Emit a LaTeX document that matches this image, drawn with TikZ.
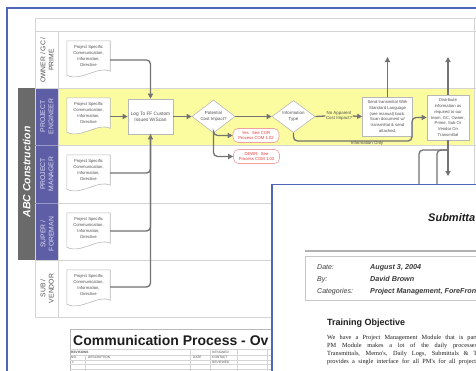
\documentclass[tikz,border=0pt]{standalone}
\usepackage{fontspec}
\setmainfont{Liberation Sans}
\newfontfamily\docserif{Liberation Serif}
\usetikzlibrary{arrows.meta,shapes.geometric}
\pgfdeclarelayer{back}
\pgfdeclarelayer{mid}
\pgfsetlayers{back,mid,main}

\definecolor{frameblue}{HTML}{4F66B8}
\definecolor{lanepurple}{HTML}{5E5EA6}
\definecolor{lanelav}{HTML}{DCDCF2}
\definecolor{laneyellow}{HTML}{FBFB9F}
\definecolor{abcgray}{HTML}{6A6A6A}
\definecolor{gridgray}{HTML}{D4D4D4}
\definecolor{flowgray}{HTML}{737373}
\definecolor{boxgray}{HTML}{B8B8B8}
\definecolor{txtgray}{HTML}{505050}
\definecolor{redtxt}{HTML}{E23B3B}
\definecolor{redline}{HTML}{F0A0A0}
\definecolor{headtxt}{HTML}{1E1E1E}
\definecolor{metatxt}{HTML}{3A3A3A}

\newcommand{\fsz}[2]{\fontsize{#1}{#2}\selectfont}

\begin{document}
\begin{tikzpicture}[x=1pt,y=-1pt,
  gridline/.style={draw=gridgray, line width=0.8},
  lanelbl/.style={rotate=90, align=center, font=\fsz{6.8}{8.2}, inner sep=0},
  docbox/.style={minimum width=43, minimum height=30, inner sep=0, align=center, font=\fsz{4.2}{6.2}, text=txtgray},
  docedge/.style={draw=boxgray, fill=white, line width=0.6},
  procbox/.style={draw=boxgray, fill=white, line width=0.6, align=center, inner sep=0, text=txtgray},
  decision/.style={diamond, draw=boxgray, fill=white, line width=0.6, align=center, inner sep=0, aspect=1.3, minimum width=43, minimum height=33, font=\fsz{4.4}{5.6}, text=txtgray},
  redbox/.style={draw=redline, fill=white, rounded corners=5, line width=0.6, align=center, inner sep=0, minimum width=46, minimum height=14, text=redtxt, font=\fsz{4.2}{5.2}},
  flow/.style={draw=flowgray, line width=1.3, rounded corners=4, -{Triangle[length=5pt,width=5pt]}},
  flowplain/.style={draw=flowgray, line width=1.3, rounded corners=4},
  flowlabel/.style={font=\fsz{4.4}{5.4}, text=txtgray, align=center, inner sep=0.5},
  tinytxt/.style={font=\fsz{3.2}{3.6}, text=txtgray, inner sep=0, anchor=west},
  metakey/.style={font=\itshape\fsz{7}{8}, text=metatxt, inner sep=0, anchor=base west},
  metaval/.style={font=\bfseries\itshape\fsz{7.2}{8}, text=metatxt, inner sep=0, anchor=base west},
  paraline/.style={font=\docserif\fsz{6.3}{8}, text=headtxt, inner sep=0, anchor=base west}
]
\useasboundingbox (0,0) rectangle (476,370);
\begin{scope}
\clip (0,0) rectangle (476,370);

% ---------- swimlanes ----------
\begin{pgfonlayer}{back}
\fill[white] (0,0) rectangle (476,370);
\fill[laneyellow] (58,88) rectangle (474,145);
\fill[lanepurple] (35,88) rectangle (58,260);
\fill[abcgray] (18,88) rectangle (35,260);
\draw[gridline] (35,18) -- (476,18);
\draw[gridline] (35,31) -- (476,31);
\foreach \yy in {88,145,203,260,317} \draw[gridline] (35,\yy) -- (476,\yy);
\draw[gridline] (35,18) -- (35,317);
\draw[gridline] (58,31) -- (58,317);
\draw[gridline] (474,18) -- (474,317);
\draw[draw=lanelav!45!lanepurple, line width=0.8] (35,145) -- (58,145) (35,203) -- (58,203);
\end{pgfonlayer}

% blue frame of the screenshot
\draw[frameblue, line width=1.5] (7,372) -- (7,8) -- (478,8);

% lane labels
\node[lanelbl, text=txtgray] (lOwner) at (47,60) {OWNER / GC /\\PRIME};
\node[lanelbl, text=lanelav] (lPE) at (47,116.5) {PROJECT\\ENGINEER};
\node[lanelbl, text=lanelav] (lPM) at (47,174) {PROJECT\\MANAGER};
\node[lanelbl, text=lanelav] (lSF) at (47,234) {SUPER /\\FOREMAN};
\node[lanelbl, text=txtgray] (lSV) at (47,288.5) {SUB /\\VENDOR};
\node[rotate=90, text=white, font=\bfseries\itshape\fsz{10.5}{12}, inner sep=0] (abc) at (26.5,172) {ABC Construction};

% documents
\node[docbox] (dA) at (88.5,56) {Project Specific\\Communication,\\Information,\\Directive};
\node[docbox] (dB) at (88.5,113) {Project Specific\\Communication,\\Information,\\Directive};
\node[docbox] (dC) at (88.5,170) {Project Specific\\Communication,\\Information,\\Directive};
\node[docbox] (dD) at (88.5,228) {Project Specific\\Communication,\\Information,\\Directive};
\node[docbox] (dE) at (88.5,285) {Project Specific\\Communication,\\Information,\\Directive};
\begin{pgfonlayer}{mid}
\foreach \d in {dA,dB,dC,dD,dE}
  \draw[docedge] (\d.north west) -- (\d.north east) -- (\d.south east)
     .. controls +(-12,-6) and +(14,7) .. ([yshift=-4pt]\d.south west) -- cycle;
\end{pgfonlayer}

% process nodes
\node[procbox, minimum width=45, minimum height=35, font=\fsz{4.8}{6}] (log) at (150.5,116.5) {Log To FF Custom\\Issues W/Scan};
\node[decision] (pot) at (213.5,116.5) {Potential\\Cost Impact?};
\node[decision, minimum height=32] (info) at (293.5,116.5) {Information\\Type};
\node[flowlabel] (noapp) at (339,116) {No Apparent\\Cost Impact?};
\node[procbox, minimum width=50, minimum height=39, font=\fsz{4.2}{5.8}] (send) at (387.5,116.5) {Send transmittal With\\Standard Language\\(see manual) back.\\Scan document w/\\transmittal \& send\\attached.};
\node[procbox, minimum width=42, minimum height=45, font=\fsz{4.2}{5.8}] (dist) at (448,117.5) {Distribute\\information as\\required to our\\team, GC, Owner,\\Prime, Sub Or\\Vendor On\\Transmittal};
\node[redbox] (yes) at (256,135.5) {Yes:\ \ See COR\\Process COM 1.02};
\node[redbox] (dewr) at (256.5,156.5) {DEWR:\ \ See\\Process COM 1.03};

\coordinate (sendUp) at (387.5,57);
\coordinate (distUp) at (448,57);
\coordinate (distDown) at (448,176);
\coordinate (ioTurn) at (412,141);
\coordinate (brJoin) at (448,150);
\coordinate (brA) at (419,192);
\coordinate (brB) at (437,192);

% connectors
\draw[flow] ([yshift=-4pt]dA.east) -| (log.north);
\draw[flow] (dB.east |- log.west) -- (log.west);
\draw[flowplain] ([yshift=-3pt]dC.east) -| (log.south);
\draw[flowplain] ([yshift=-3pt]dD.east) -| (log.south);
\draw[flow] ([yshift=-2pt]dE.east) -| (log.south);
\draw[flow] (log.east) -- (pot.west);
\draw[flow] (pot.south) |- (yes.west);
\draw[flow] (pot.south) |- (dewr.west);
\draw[flow] (pot.east) -- (info.west);
\draw[flowplain] (info.east) -- (noapp.west);
\draw[flow] (noapp.east) -- (send.west);
\draw[flow] (info.south) |- (ioTurn) |- (dist.west);
\node[flowlabel] (ioLabel) at (367,143) {Information Only};
\draw[flow] (send.north) -- (sendUp);
\draw[flow] (dist.north) -- (distUp);
\draw[flow] (dist.south) -- (distDown);
\draw[flowplain] (brJoin) -| (brA);
\draw[flowplain] (brJoin) -| (brB);

% ---------- title block ----------
\draw[draw=gray!55, line width=0.8] (70,372) -- (70,329) -- (280,329);
\node[anchor=base west, font=\bfseries\fsz{14}{15}, text=headtxt, inner sep=0] (title) at (73,345) {Communication Process - Ov};
\draw[gridline] (70,349.5) -- (280,349.5);
\foreach \yy in {355,360,364.5,369} \draw[gridline] (70,\yy) -- (280,\yy);
\foreach \xx in {85} \draw[gridline] (\xx,355) -- (\xx,372);
\foreach \xx in {190,210,237,267} \draw[gridline] (\xx,349.5) -- (\xx,372);
\node[tinytxt, font=\bfseries\fsz{3.2}{3.6}] (tRev) at (71,352.5) {REVISIONS};
\node[tinytxt] (tNo) at (71,357.6) {NO.};
\node[tinytxt] (tDesc) at (88,357.6) {DESCRIPTION};
\node[tinytxt] (tDate) at (193,357.6) {DATE};
\node[tinytxt] (tOne) at (72,362.3) {1};
\node[tinytxt] (tDes) at (212,352.5) {DESIGNED};
\node[tinytxt] (tCon) at (212,357.6) {CONTACT};
\node[tinytxt] (tRvw) at (212,362.3) {REVIEWED};

% ---------- overlaid training document ----------
\fill[white] (272,184.5) rectangle (480,375);
\draw[frameblue, line width=1.3] (272,375) -- (272,184.5) -- (480,184.5);
\node[anchor=base west, font=\bfseries\itshape\fsz{11}{13}, text=headtxt, inner sep=0] (subm) at (428,221) {Submitta};
\draw[draw=gray!60, line width=1.4] (305,251) -- (480,251);
\draw[draw=gray!45, line width=0.8] (480,256.5) -- (305,256.5) -- (305,300) -- (480,300);
\node[metakey] (kDate) at (317,269) {Date:};
\node[metaval] (vDate) at (370,269) {August 3, 2004};
\node[metakey] (kBy) at (317,281) {By:};
\node[metaval] (vBy) at (370,281) {David Brown};
\node[metakey] (kCat) at (317,293) {Categories:};
\node[metaval] (vCat) at (370,293) {Project Management, ForeFron};
\node[anchor=base west, font=\bfseries\fsz{9}{10}, text=headtxt, inner sep=0] (tObj) at (327,325) {Training Objective};
\node[paraline] (p1) at (327,339) {\makebox[150pt][s]{We have a Project Management Module that is part}};
\node[paraline] (p2) at (327,347) {\makebox[150pt][s]{PM Module makes a lot of the daily processes}};
\node[paraline] (p3) at (327,355) {\makebox[150pt][s]{Transmittals, Memo's, Daily Logs, Submittals \& T}};
\node[paraline] (p4) at (327,363) {\makebox[149pt][s]{provides a single interface for all PM's for all project}};
\end{scope}
\end{tikzpicture}
\end{document}
